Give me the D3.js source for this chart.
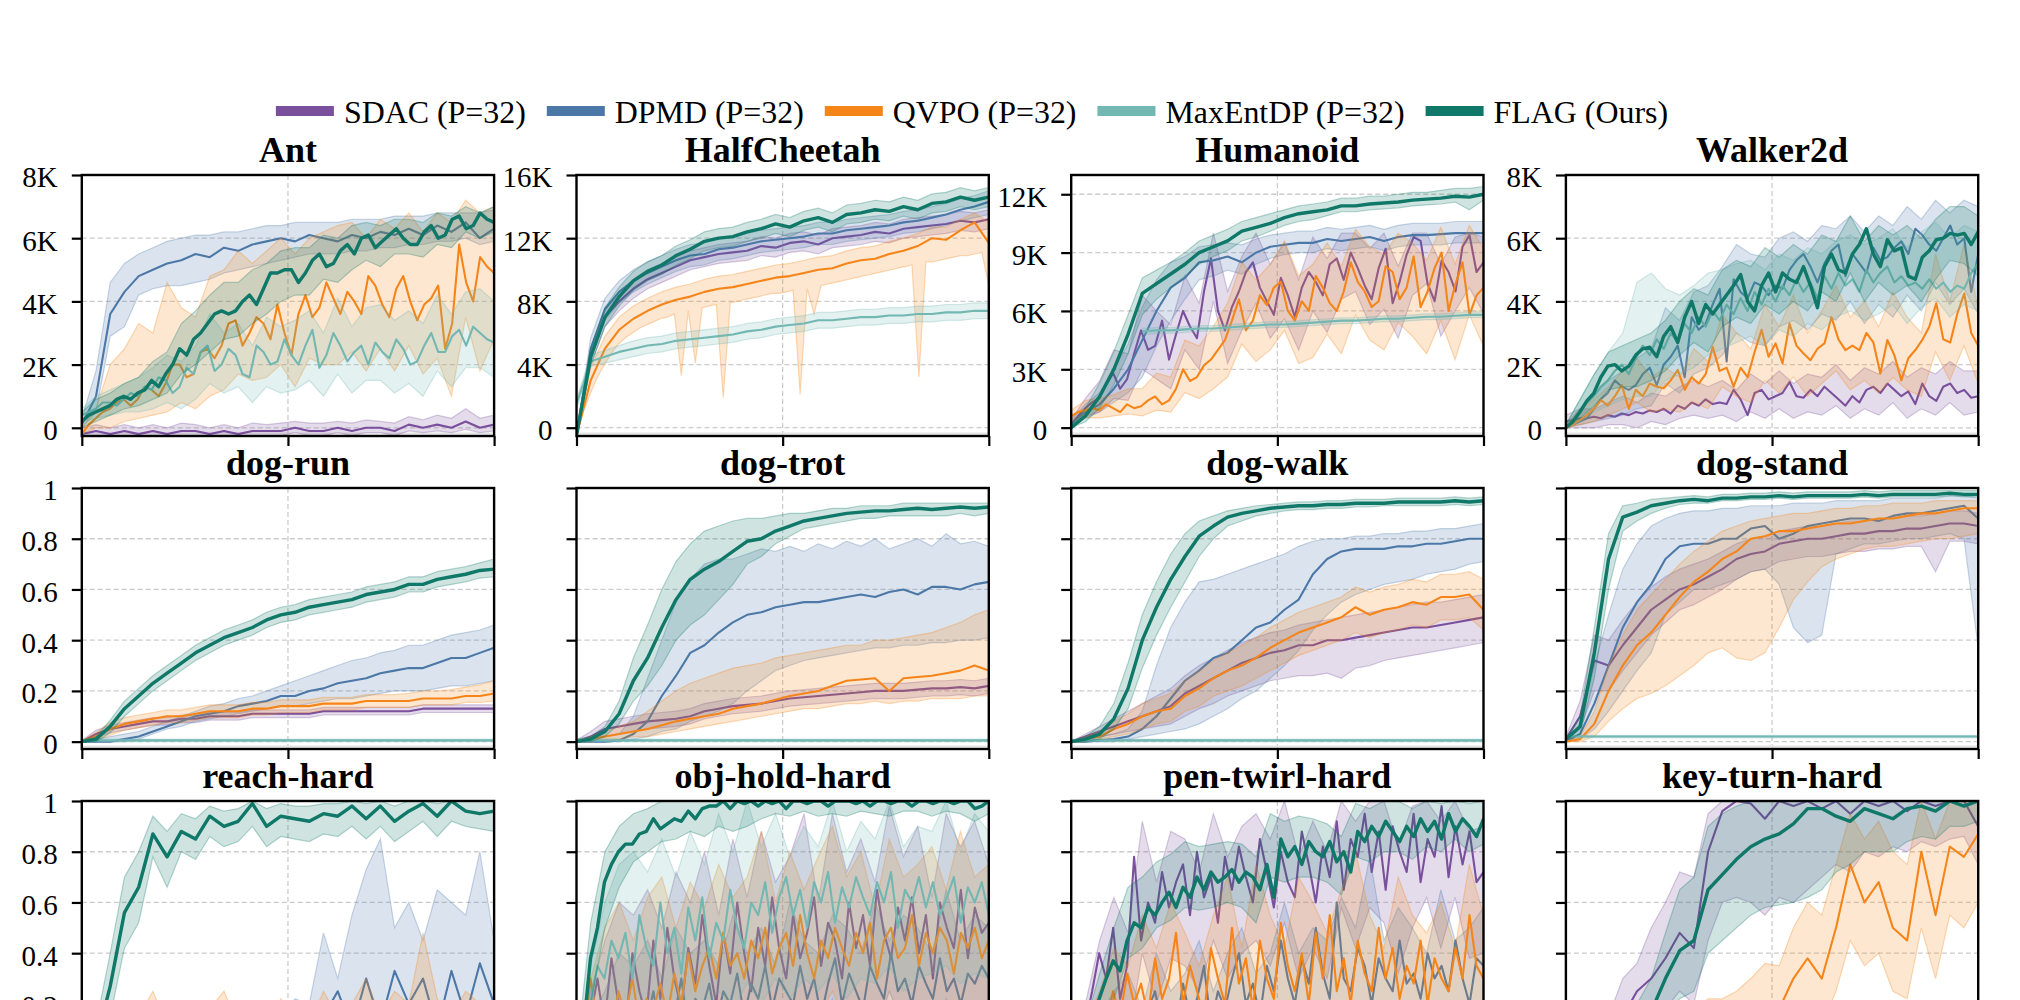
<!DOCTYPE html>
<html>
<head>
<meta charset="utf-8">
<script src="https://cdn.jsdelivr.net/npm/d3@7"></script>
<style>
  body { margin: 0; overflow: hidden; background: #fff; }
  text { font-family: "Liberation Serif", "Times New Roman", serif; }
</style>
</head>
<body>
<div id="chart"></div>
<script>
// Methods, in drawing order (FLAG on top)
const methodNames = ["SDAC (P=32)", "DPMD (P=32)", "QVPO (P=32)", "MaxEntDP (P=32)", "FLAG (Ours)"];
const methodColors = ["#7a4f9c", "#4c78a8", "#f58518", "#72b7b2", "#0f7868"];

const taskNames = ["Ant", "HalfCheetah", "Humanoid", "Walker2d",
                   "dog-run", "dog-trot", "dog-walk", "dog-stand",
                   "reach-hard", "obj-hold-hard", "pen-twirl-hard", "key-turn-hard"];

const ticks8K = [0, 2, 4, 6, 8];
const ticks16K = [0, 4, 8, 12, 16];
const ticks12K = [0, 3, 6, 9, 12];
const ticksUnit = [0, 0.2, 0.4, 0.6, 0.8, 1];

// ---- MuJoCo (values in thousands) ----
// each: [SDAC, DPMD, QVPO, MaxEntDP, FLAG]; points are spread evenly over training
const antMean = [
  [-0.2,-0.1,-0.2,-0.1,-0.2,-0.1,-0.2,-0.1,-0.1,-0.2,-0.1,-0.2,-0.1,-0.1,-0.1,0,-0.1,-0.1,0,-0.1,0,0,-0.1,0.1,0,0.1,0,0.2,0,0.1],
  [0.1,1.0,3.6,4.3,4.8,5.0,5.2,5.3,5.5,5.4,5.7,5.6,5.8,5.9,6.0,5.9,6.1,6.0,5.9,6.1,6.0,6.2,6.1,6.3,6.1,6.4,6.2,6.5,6.0,6.3],
  [-0.2,0.1,0.3,0.5,0.6,0.8,0.9,0.7,0.9,1.3,1.2,1.0,1.4,2.0,2.0,1.6,1.7,2.4,2.5,2.2,2.6,3.3,3.4,2.6,3.0,3.5,3.3,2.8,3.9,3.0,2.3,3.6,4.2,3.5,3.8,4.6,4.1,3.6,4.3,4.0,3.6,4.8,4.5,3.9,3.5,4.4,4.8,4.0,3.4,3.9,4.1,4.5,2.5,3.3,5.8,4.6,4.0,5.4,5.1,4.9],
  [0.4,0.5,0.6,0.8,0.8,0.7,0.9,1.1,1.0,1.3,1.2,1.6,1.5,1.1,1.3,1.9,1.7,2.4,2.6,1.8,2.0,2.5,2.3,1.7,1.6,2.6,2.4,2.0,2.1,2.8,2.3,2.0,2.6,3.1,1.9,2.3,3.0,2.6,2.1,2.4,2.6,2.0,2.7,2.4,2.2,2.8,2.5,2.0,2.1,2.6,3.0,2.4,2.4,2.9,3.1,2.6,3.2,3.0,2.8,2.7],
  [0.2,0.4,0.5,0.6,0.7,0.9,1.0,0.9,1.1,1.2,1.5,1.3,1.7,2.0,2.5,2.3,2.8,3.0,3.3,3.6,3.7,3.6,3.7,4.0,4.2,3.9,4.4,4.9,4.9,5.0,5.0,4.6,4.9,5.3,5.5,5.1,5.2,5.6,5.8,5.5,6.0,6.1,5.7,5.9,6.1,6.3,6.0,5.8,5.8,6.2,6.4,6.0,6.1,6.6,6.7,6.3,6.4,6.8,6.6,6.5]
];
const antLo = [
  [-0.3,-0.25,-0.3,-0.25,-0.3,-0.25,-0.3,-0.25,-0.25,-0.3,-0.25,-0.3,-0.25,-0.25,-0.25,-0.15,-0.25,-0.25,-0.15,-0.25,-0.15,-0.15,-0.25,-0.1,-0.15,-0.1,-0.15,-0.05,-0.15,-0.1],
  [0,0.5,2.9,3.2,4.2,4.4,4.5,4.5,4.6,4.7,4.9,5.0,5.1,5.2,5.3,5.4,5.5,5.5,5.5,5.6,5.6,5.7,5.7,5.8,5.8,5.9,5.9,6.0,5.8,5.9],
  [-0.2,0,0,0.2,0.3,0.4,0.5,0.8,0.6,1.0,1.2,1.7,1.5,1.6,2.0,1.3,2.2,2.0,2.0,2.4,1.8,2.5,1.8,2.6,1.7,2.2,1.0,3.5,1.8,2.8],
  [0.2,0.3,0.4,0.5,0.5,0.6,0.8,0.6,0.9,1.4,1.1,1.3,0.8,1.3,1.1,1.2,1.5,1.0,1.7,1.1,1.5,1.5,1.1,1.4,1.0,1.8,1.3,1.9,1.9,1.6],
  [0,0.2,0.4,0.6,0.7,0.9,1.1,1.7,2.0,2.4,2.8,2.9,3.3,3.6,4.0,4.2,4.2,4.7,4.6,5.0,5.3,5.1,5.5,5.5,5.4,5.8,5.7,6.2,6.0,6.2]
];
const antHi = [
  [0,0.1,0,0.1,0,0.1,0,0.15,0.1,0,0.1,0,0.15,0.1,0.15,0.2,0.15,0.15,0.2,0.15,0.25,0.2,0.15,0.35,0.25,0.4,0.3,0.6,0.3,0.4],
  [0.3,1.8,4.6,5.2,5.5,5.7,5.9,6.0,6.1,6.1,6.2,6.2,6.3,6.4,6.4,6.5,6.5,6.5,6.5,6.6,6.6,6.6,6.7,6.7,6.7,6.8,6.8,6.8,6.8,6.9],
  [0,0.6,2.0,2.5,3.3,3.0,4.6,3.8,3.5,4.8,5.0,5.6,5.2,5.6,6.0,5.5,6.0,6.2,6.4,6.5,6.0,6.6,6.3,6.8,6.2,6.8,6.5,7.2,6.8,7.0],
  [0.6,1.0,1.2,1.4,1.6,1.9,2.3,2.1,2.6,3.6,3.0,3.3,2.6,3.5,3.2,3.4,3.7,3.0,4.1,3.2,3.8,3.9,3.4,3.7,3.3,4.2,3.6,4.3,4.4,4.0],
  [0.5,0.9,1.1,1.4,1.6,2.1,2.4,3.3,3.7,4.2,4.6,4.6,5.0,5.2,5.6,5.7,5.7,6.1,6.0,6.4,6.5,6.4,6.6,6.6,6.5,6.8,6.7,7.0,6.8,7.0]
];

const cheetahMean = [
  [-0.5,4.5,7.0,8.0,8.8,9.4,9.8,10.2,10.6,10.8,11.0,11.1,11.2,11.5,11.4,11.7,11.8,11.6,12.0,12.1,12.2,12.4,12.3,12.6,12.7,12.8,12.9,13.1,13.0,13.2],
  [-0.5,5.0,7.5,8.6,9.3,9.8,10.2,10.6,10.9,11.0,11.3,11.4,11.6,11.8,11.9,12.0,12.1,12.3,12.3,12.5,12.6,12.7,12.8,13.0,13.1,13.3,13.5,13.8,14.0,14.3],
  [-0.5,3.0,5.0,6.2,6.9,7.4,7.8,8.1,8.3,8.6,8.8,8.9,9.1,9.3,9.5,9.6,9.8,10.0,10.1,10.4,10.6,10.7,11.0,11.2,11.5,12.0,11.9,12.5,13.0,11.7],
  [1.5,4.2,4.5,4.8,5.0,5.2,5.3,5.5,5.6,5.7,5.8,5.9,6.1,6.2,6.4,6.5,6.6,6.8,6.8,6.9,7.0,7.0,7.1,7.1,7.2,7.2,7.3,7.3,7.4,7.4],
  [-0.5,4.5,7.0,8.3,9.3,9.9,10.3,10.9,11.3,11.8,12.0,12.1,12.4,12.6,12.9,12.7,13.1,13.3,13.0,13.5,13.6,13.8,13.7,14.0,13.8,14.2,14.3,14.6,14.4,14.6]
];
const cheetahLo = [
  [-0.5,4.0,6.4,7.4,8.2,8.8,9.2,9.6,10.0,10.2,10.4,10.5,10.6,10.9,10.8,11.1,11.2,11.0,11.4,11.5,11.6,11.8,11.7,12.0,12.1,12.2,12.3,12.5,12.4,12.6],
  [-0.5,4.3,6.8,7.9,8.6,9.1,9.5,9.9,10.2,10.3,10.6,10.7,10.9,11.1,11.2,11.3,11.4,11.6,11.6,11.8,11.9,12.0,12.1,12.3,12.4,12.6,12.8,13.1,13.3,13.5],
  [-0.5,1.0,2.2,3.2,4.0,4.7,5.3,5.7,6.0,6.3,6.5,6.7,6.9,7.0,7.2,3.3,7.4,4.1,7.6,7.7,7.8,1.9,7.9,8.0,8.1,8.2,8.3,8.4,8.5,8.5,8.6,8.7,2.1,8.8,7.2,9.0,9.1,9.2,9.3,9.4,9.5,9.6,9.7,9.8,9.9,10.0,10.1,10.2,10.3,3.2,10.5,10.5,10.6,10.7,10.8,10.9,10.9,11.0,11.1,9.0],
  [1.2,3.9,4.1,4.3,4.5,4.7,4.8,5.0,5.1,5.2,5.3,5.4,5.6,5.7,5.9,6.0,6.1,6.3,6.3,6.4,6.5,6.5,6.6,6.6,6.7,6.7,6.8,6.8,6.9,6.9],
  [-0.5,3.9,6.4,7.7,8.7,9.3,9.7,10.3,10.7,11.2,11.4,11.5,11.8,12.0,12.3,12.1,12.5,12.7,12.4,12.9,13.0,13.2,13.1,13.4,13.2,13.6,13.7,14.0,13.8,14.0]
];
const cheetahHi = [
  [-0.3,5.0,7.6,8.6,9.4,10.0,10.4,10.8,11.2,11.4,11.6,11.7,11.8,12.1,12.0,12.3,12.4,12.2,12.6,12.7,12.8,13.0,12.9,13.2,13.3,13.4,13.5,13.7,13.6,13.8],
  [-0.3,5.7,8.2,9.3,10.0,10.5,10.9,11.3,11.6,11.7,12.0,12.1,12.3,12.5,12.6,12.7,12.8,13.0,13.0,13.2,13.3,13.4,13.5,13.7,13.8,14.0,14.2,14.5,14.7,15.0],
  [-0.3,3.8,5.8,7.0,7.7,8.2,8.6,8.9,9.1,9.4,9.6,9.7,9.9,10.1,10.3,10.4,10.6,10.8,10.9,11.2,11.4,11.5,11.8,12.0,12.3,12.7,12.7,13.2,13.6,13.0],
  [1.8,4.6,4.9,5.2,5.5,5.7,5.8,6.0,6.1,6.2,6.3,6.4,6.6,6.7,6.9,7.0,7.1,7.3,7.3,7.4,7.5,7.5,7.6,7.6,7.7,7.7,7.8,7.8,7.9,7.9],
  [-0.3,5.1,7.6,8.9,9.9,10.5,10.9,11.5,11.9,12.4,12.6,12.7,13.0,13.2,13.5,13.3,13.7,13.9,13.6,14.1,14.2,14.4,14.3,14.6,14.4,14.8,14.9,15.2,15.0,15.2]
];

const humanoidMean = [
  [0.2,0.6,1.0,1.3,1.5,2.2,2.8,2.0,2.5,3.8,5.0,4.0,4.2,5.5,3.5,4.8,6.0,5.2,4.6,7.0,8.7,6.0,5.0,6.2,7.0,8.0,8.5,7.2,6.5,5.8,7.7,6.8,5.7,7.2,8.0,7.5,6.8,8.4,8.7,7.6,9.0,8.2,7.3,6.6,8.2,9.2,6.4,7.5,8.9,9.8,9.6,7.4,6.5,8.6,8.0,7.0,9.3,9.9,8.0,8.5],
  [0.2,0.8,1.2,2.0,3.0,4.5,6.0,7.2,7.7,8.5,8.6,8.8,8.5,9.0,9.3,9.4,9.5,9.5,9.7,9.6,9.7,9.8,9.6,9.8,9.9,9.9,9.95,10.0,10.0,10.0],
  [0.6,0.8,0.9,1.0,0.9,1.2,1.0,0.8,1.2,1.0,1.1,1.4,1.6,1.2,1.4,2.0,3.0,2.4,2.6,3.2,3.5,4.0,4.5,5.5,6.6,5.0,5.5,6.8,6.3,7.2,7.5,6.0,5.5,6.5,6.0,7.8,7.2,6.4,6.0,7.0,8.5,7.5,7.0,6.2,6.5,8.3,8.0,6.6,7.2,8.8,6.2,7.0,8.2,9.0,6.0,7.4,8.5,5.8,6.8,7.2],
  [null,null,null,null,null,4.95,5.0,5.0,5.05,5.1,5.1,5.15,5.2,5.25,5.3,5.3,5.35,5.4,5.45,5.5,5.5,5.55,5.6,5.6,5.65,5.7,5.7,5.75,5.8,5.8],
  [0,0.6,1.6,3.0,4.8,6.9,7.4,7.9,8.4,9.0,9.3,9.6,10.1,10.3,10.5,10.8,11.0,11.1,11.2,11.4,11.4,11.5,11.55,11.6,11.7,11.75,11.8,11.9,11.85,12.0]
];
const humanoidLo = [
  [0.1,0.6,0.8,1.5,1.4,3.0,2.5,2.0,4.0,3.0,6.5,3.3,5.0,6.4,4.6,5.6,4.0,6.0,4.9,6.6,7.0,5.3,6.1,4.6,6.8,7.4,4.7,6.0,7.2,5.9],
  [0.1,0.5,0.8,1.3,1.8,2.6,4.2,5.5,6.6,7.6,7.8,8.1,7.9,8.4,8.7,8.9,9.0,9.0,9.2,9.1,9.2,9.3,9.1,9.3,9.4,9.4,9.4,9.5,9.5,9.5],
  [0.3,0.5,0.5,0.6,0.7,0.6,0.9,0.8,1.8,1.5,2.0,2.6,4.3,3.4,4.0,5.0,3.3,3.6,4.8,3.8,5.8,4.5,4.0,5.4,4.7,3.8,5.5,3.5,5.8,4.2],
  [null,null,null,null,null,4.8,4.85,4.85,4.9,4.95,4.95,5.0,5.05,5.1,5.15,5.15,5.2,5.25,5.3,5.35,5.35,5.4,5.45,5.45,5.5,5.55,5.55,5.6,5.65,5.65],
  [0,0.3,1.0,2.2,3.8,5.8,6.6,7.2,7.8,8.4,8.8,9.1,9.6,9.8,10.1,10.4,10.6,10.7,10.9,11.1,11.1,11.2,11.25,11.3,11.4,11.45,11.5,11.6,11.2,11.7]
];
const humanoidHi = [
  [0.4,1.5,2.4,4.0,3.8,6.8,6.0,5.3,7.8,6.4,10.0,7.0,8.8,10.0,8.4,9.5,7.6,9.8,8.7,10.0,10.0,9.2,10.0,8.3,10.0,10.0,8.4,9.8,10.0,9.8],
  [0.4,1.2,1.8,3.0,4.3,6.2,7.6,8.5,8.8,9.3,9.4,9.5,9.4,9.7,9.9,10.0,10.1,10.1,10.3,10.2,10.3,10.4,10.2,10.4,10.5,10.5,10.5,10.6,10.6,10.6],
  [0.9,1.4,1.5,1.7,2.0,2.0,2.8,2.6,4.5,4.2,5.2,6.4,8.5,7.6,8.4,9.6,7.8,8.4,9.5,8.3,10.2,9.3,8.9,10.0,9.5,8.6,10.3,8.4,10.4,9.2],
  [null,null,null,null,null,5.1,5.15,5.15,5.2,5.25,5.25,5.3,5.35,5.4,5.45,5.45,5.5,5.55,5.6,5.65,5.65,5.7,5.75,5.75,5.8,5.85,5.85,5.9,5.95,5.95],
  [0.2,1.0,2.3,3.9,5.8,7.7,8.1,8.5,9.0,9.6,9.9,10.2,10.6,10.8,11.0,11.2,11.4,11.5,11.6,11.8,11.8,11.9,11.9,12.0,12.1,12.1,12.2,12.3,12.3,12.4]
];

const walkerMean = [
  [0.2,0.25,0.3,0.3,0.35,0.3,0.4,0.35,0.45,0.4,0.5,0.45,0.55,0.5,0.6,0.45,0.7,0.6,0.8,0.7,0.9,0.75,0.8,0.75,1.2,0.9,0.4,1.1,1.2,0.9,1.0,1.1,1.45,1.0,0.95,1.2,1.0,1.3,1.1,0.9,0.7,1.0,0.8,1.2,1.3,1.1,1.4,1.2,1.0,1.15,0.75,1.4,1.0,0.85,1.3,1.4,1.1,1.2,0.95,1.0],
  [0,0.1,0.2,0.3,0.6,0.9,1.1,1.5,1.3,1.2,1.35,1.7,1.9,1.35,2.0,2.25,2.6,1.6,3.5,3.1,3.3,3.9,4.4,2.1,4.7,4.3,4.1,4.6,4.5,4.2,4.5,4.4,5.0,5.3,5.5,5.1,4.6,5.2,5.6,5.8,4.8,5.5,5.2,4.9,5.7,5.3,5.4,5.7,5.9,5.5,6.3,6.1,5.8,5.6,6.0,6.4,5.8,6.0,4.3,5.5],
  [0,0.1,0.25,0.4,0.6,0.88,0.7,1.0,1.35,0.6,1.2,1.0,1.4,1.3,1.25,1.5,1.83,1.2,1.6,1.4,1.7,2.56,1.8,1.9,1.3,1.9,1.6,2.4,3.1,2.25,2.67,2.04,3.3,2.6,2.35,2.14,2.5,2.67,3.5,2.8,2.46,2.6,2.46,3.0,2.7,1.72,2.78,2.3,1.5,2.2,2.46,2.78,3.2,3.94,2.8,2.7,3.6,4.25,3.0,2.6],
  [0,0.2,0.5,0.8,1.0,1.3,1.5,1.8,2.0,1.7,2.2,2.6,2.3,2.8,2.5,3.0,2.7,3.3,3.0,3.5,3.2,3.7,3.4,3.9,3.6,4.1,3.7,4.3,3.9,4.4,4.0,4.5,4.2,4.7,4.3,4.6,4.1,4.8,4.4,4.9,4.5,4.7,4.3,5.0,4.6,4.9,5.1,4.6,4.8,4.5,4.6,4.4,4.7,4.4,4.6,4.3,4.5,4.4,4.9,5.2],
  [0,0.2,0.5,0.85,1.1,1.6,1.95,2.0,1.8,1.95,2.3,2.5,2.55,2.25,2.9,3.2,2.7,3.5,4.0,3.3,3.9,3.6,3.9,4.2,4.5,4.85,4.0,3.7,4.5,4.9,4.3,4.9,4.7,4.6,5.1,4.5,3.8,5.1,5.5,5.0,4.9,5.5,5.8,6.3,5.5,5.1,5.95,5.6,5.7,4.8,4.7,5.4,5.6,5.95,6.0,6.15,6.1,6.15,5.8,6.2]
];
const walkerLo = [
  [0,0,0,0.1,0.1,0,0.2,0.1,0.3,0.4,0.3,0.4,0.2,0.5,0.3,0.6,0.3,0.5,0.4,0.7,0.3,0.6,0.4,0.8,0.3,0.6,0.4,0.8,0.4,0.5],
  [0,0.1,0.2,0.3,0.4,0.6,0.7,1.4,1.1,1.7,1.9,2.3,3.0,2.7,2.6,3.2,3.4,3.1,3.6,3.4,4.0,3.3,3.9,3.5,4.2,3.7,4.6,3.9,4.4,3.6],
  [0,0.1,0.2,0.4,0.6,0.8,0.5,0.6,0.5,0.8,0.6,1.3,1.0,0.8,1.5,1.1,1.6,1.0,1.4,1.8,1.2,1.5,1.1,1.6,1.2,1.0,2.4,1.5,2.6,1.4],
  [0,0.2,0.5,0.7,0.9,1.0,1.0,1.5,1.7,1.9,2.3,2.5,2.7,2.9,2.6,3.1,2.9,3.3,3.1,3.5,3.7,3.4,3.6,3.9,3.3,3.8,4.1,3.5,3.9,3.7],
  [0,0.3,0.7,1.2,1.3,1.3,1.5,1.8,2.3,2.7,2.4,3.2,3.5,3.3,3.9,3.6,4.0,3.7,4.3,4.0,4.9,4.0,4.6,4.2,4.5,4.0,4.7,5.3,5.2,4.8]
];
const walkerHi = [
  [0.4,0.6,0.6,0.8,1.0,0.8,1.1,1.0,1.3,1.5,1.3,1.5,1.2,1.7,1.4,1.8,1.4,1.7,1.6,2.0,1.5,1.9,1.7,2.1,1.6,1.9,1.7,2.1,1.8,1.8],
  [0.1,0.6,1.0,1.5,1.8,2.2,2.5,3.8,3.4,4.3,4.5,5.1,5.8,5.5,5.4,6.0,6.2,5.9,6.4,6.3,6.7,6.2,6.7,6.4,7.0,6.6,7.2,6.8,7.2,7.0],
  [0.1,0.6,0.9,1.3,1.8,2.2,1.6,1.9,1.6,2.5,2.1,3.6,3.0,2.5,3.9,3.2,4.2,3.0,3.7,4.5,3.5,4.0,3.2,4.3,3.5,3.0,5.5,4.0,5.8,3.8],
  [0.1,0.9,1.7,2.4,3.0,4.6,4.9,4.4,4.2,4.5,4.9,5.0,5.2,5.3,5.0,5.5,5.3,5.7,5.5,5.9,6.1,5.8,6.0,6.3,5.7,6.2,6.5,6.0,6.4,6.2],
  [0.1,0.9,1.7,2.4,2.6,2.8,3.0,3.4,4.0,4.4,4.2,5.0,5.3,5.1,5.7,5.4,5.8,5.5,6.1,5.9,6.7,5.9,6.4,6.1,6.4,6.0,6.6,7.0,7.0,6.7]
];

// ---- DMC dog (normalised return) ----
const dogRunMean = [
  [0,0.03,0.05,0.06,0.07,0.08,0.08,0.09,0.09,0.1,0.1,0.1,0.11,0.11,0.11,0.11,0.11,0.12,0.12,0.12,0.12,0.12,0.12,0.12,0.13,0.13,0.13,0.13,0.13,0.13],
  [0,0,0,0.01,0.02,0.04,0.06,0.08,0.1,0.11,0.12,0.14,0.15,0.16,0.18,0.18,0.2,0.21,0.23,0.24,0.25,0.27,0.28,0.29,0.29,0.31,0.33,0.33,0.35,0.37],
  [0,0.02,0.05,0.07,0.08,0.09,0.1,0.1,0.11,0.12,0.12,0.12,0.13,0.13,0.14,0.14,0.14,0.15,0.15,0.15,0.16,0.16,0.16,0.16,0.17,0.17,0.17,0.18,0.18,0.19],
  [0.005,0.005],
  [0,0.01,0.06,0.13,0.18,0.23,0.27,0.31,0.35,0.38,0.41,0.43,0.45,0.48,0.5,0.51,0.53,0.54,0.55,0.56,0.58,0.59,0.6,0.62,0.62,0.64,0.65,0.66,0.675,0.68]
];
const dogRunLo = [
  [0,0.015,0.035,0.045,0.055,0.065,0.065,0.075,0.075,0.085,0.085,0.085,0.095,0.095,0.095,0.095,0.095,0.105,0.105,0.105,0.105,0.105,0.105,0.105,0.115,0.115,0.115,0.115,0.115,0.115],
  [0,0,0,0,0.01,0.03,0.05,0.06,0.08,0.09,0.1,0.11,0.12,0.13,0.14,0.14,0.15,0.16,0.17,0.17,0.18,0.19,0.2,0.2,0.2,0.21,0.22,0.22,0.23,0.24],
  [0,0.005,0.025,0.045,0.055,0.065,0.075,0.075,0.085,0.095,0.095,0.095,0.105,0.105,0.115,0.115,0.115,0.125,0.125,0.125,0.135,0.135,0.135,0.135,0.145,0.145,0.145,0.155,0.155,0.16],
  [0,0],
  [0,0,0.035,0.1,0.15,0.2,0.24,0.28,0.32,0.35,0.38,0.4,0.42,0.45,0.47,0.48,0.5,0.51,0.52,0.53,0.55,0.56,0.57,0.59,0.59,0.61,0.62,0.63,0.645,0.65]
];
const dogRunHi = [
  [0.005,0.045,0.065,0.075,0.085,0.095,0.095,0.105,0.105,0.115,0.115,0.115,0.125,0.125,0.125,0.125,0.125,0.135,0.135,0.135,0.135,0.135,0.135,0.135,0.145,0.145,0.145,0.145,0.145,0.145],
  [0,0.01,0.02,0.03,0.04,0.06,0.08,0.1,0.12,0.14,0.15,0.17,0.18,0.2,0.22,0.24,0.26,0.28,0.3,0.32,0.33,0.35,0.36,0.38,0.38,0.4,0.42,0.43,0.44,0.46],
  [0.005,0.035,0.075,0.095,0.105,0.115,0.125,0.125,0.135,0.145,0.145,0.145,0.155,0.155,0.165,0.165,0.165,0.175,0.175,0.175,0.185,0.185,0.185,0.19,0.2,0.2,0.205,0.215,0.225,0.24],
  [0.01,0.01],
  [0.005,0.02,0.085,0.16,0.21,0.26,0.3,0.34,0.38,0.41,0.44,0.46,0.48,0.51,0.53,0.54,0.56,0.57,0.58,0.59,0.61,0.62,0.63,0.65,0.65,0.67,0.68,0.69,0.705,0.72]
];

const dogTrotMean = [
  [0,0.02,0.05,0.06,0.07,0.08,0.085,0.09,0.1,0.12,0.13,0.14,0.145,0.15,0.16,0.17,0.175,0.18,0.185,0.19,0.195,0.2,0.2,0.2,0.205,0.21,0.21,0.215,0.21,0.22],
  [0,0,0,0.005,0.03,0.08,0.18,0.26,0.35,0.38,0.43,0.47,0.5,0.51,0.53,0.54,0.55,0.55,0.56,0.57,0.58,0.57,0.59,0.6,0.58,0.61,0.61,0.6,0.62,0.63],
  [0,0.01,0.02,0.03,0.04,0.05,0.065,0.08,0.09,0.1,0.11,0.13,0.14,0.15,0.165,0.18,0.19,0.2,0.22,0.24,0.245,0.25,0.2,0.25,0.255,0.26,0.27,0.28,0.3,0.28],
  [0.005,0.005],
  [0,0.01,0.04,0.11,0.24,0.33,0.45,0.56,0.64,0.68,0.71,0.75,0.79,0.8,0.83,0.85,0.87,0.88,0.89,0.9,0.905,0.91,0.91,0.915,0.92,0.915,0.92,0.925,0.92,0.925]
];
const dogTrotLo = [
  [0,0,0.02,0.03,0.04,0.05,0.055,0.06,0.07,0.09,0.1,0.11,0.115,0.12,0.13,0.14,0.145,0.15,0.155,0.16,0.165,0.17,0.17,0.17,0.175,0.18,0.18,0.185,0.18,0.19],
  [0,0,0,0,0.01,0.02,0.04,0.05,0.08,0.1,0.12,0.15,0.2,0.24,0.28,0.3,0.32,0.33,0.34,0.35,0.36,0.37,0.37,0.38,0.38,0.39,0.39,0.4,0.4,0.41],
  [0,0,0.01,0.01,0.02,0.02,0.03,0.04,0.05,0.06,0.07,0.08,0.09,0.1,0.11,0.12,0.13,0.13,0.14,0.15,0.15,0.16,0.15,0.16,0.16,0.17,0.17,0.17,0.18,0.18],
  [0,0],
  [0,0,0.02,0.07,0.16,0.22,0.3,0.4,0.46,0.5,0.56,0.62,0.7,0.73,0.78,0.81,0.84,0.85,0.86,0.87,0.88,0.88,0.89,0.89,0.89,0.89,0.89,0.9,0.89,0.9]
];
const dogTrotHi = [
  [0.005,0.04,0.08,0.09,0.1,0.11,0.115,0.12,0.13,0.15,0.16,0.17,0.175,0.18,0.19,0.2,0.205,0.21,0.215,0.22,0.225,0.23,0.23,0.23,0.235,0.24,0.24,0.245,0.24,0.25],
  [0,0.01,0.02,0.03,0.1,0.25,0.4,0.55,0.64,0.7,0.72,0.72,0.74,0.76,0.75,0.77,0.75,0.78,0.76,0.79,0.77,0.8,0.76,0.78,0.8,0.77,0.82,0.78,0.79,0.77],
  [0,0.02,0.04,0.06,0.08,0.12,0.16,0.2,0.23,0.25,0.27,0.29,0.3,0.31,0.33,0.34,0.35,0.36,0.37,0.38,0.38,0.4,0.4,0.41,0.42,0.43,0.45,0.47,0.5,0.52],
  [0.01,0.01],
  [0.01,0.02,0.06,0.16,0.33,0.46,0.6,0.71,0.78,0.83,0.85,0.87,0.88,0.88,0.89,0.9,0.9,0.91,0.92,0.92,0.93,0.93,0.93,0.94,0.94,0.94,0.94,0.94,0.94,0.94]
];

const dogWalkMean = [
  [0,0.02,0.04,0.06,0.08,0.1,0.12,0.14,0.19,0.22,0.25,0.28,0.31,0.33,0.35,0.36,0.38,0.38,0.4,0.4,0.41,0.42,0.43,0.44,0.45,0.45,0.46,0.47,0.48,0.49],
  [0,0,0.005,0.01,0.02,0.05,0.1,0.17,0.24,0.28,0.33,0.35,0.4,0.45,0.47,0.52,0.56,0.66,0.72,0.75,0.76,0.76,0.76,0.77,0.77,0.78,0.78,0.79,0.8,0.8],
  [0,0.01,0.02,0.05,0.07,0.1,0.12,0.13,0.18,0.21,0.25,0.28,0.3,0.33,0.37,0.4,0.43,0.45,0.47,0.49,0.53,0.5,0.52,0.53,0.55,0.54,0.57,0.57,0.58,0.52],
  [0.005,0.005],
  [0,0.01,0.03,0.09,0.21,0.4,0.53,0.64,0.73,0.81,0.85,0.885,0.9,0.91,0.92,0.925,0.93,0.93,0.935,0.935,0.94,0.94,0.94,0.945,0.945,0.945,0.945,0.95,0.945,0.95]
];
const dogWalkLo = [
  [0,0.01,0.02,0.03,0.04,0.05,0.06,0.07,0.1,0.13,0.15,0.18,0.2,0.22,0.24,0.25,0.26,0.26,0.27,0.25,0.29,0.3,0.32,0.33,0.34,0.35,0.36,0.37,0.38,0.39],
  [0,0,0,0,0.01,0.02,0.03,0.04,0.05,0.07,0.1,0.13,0.17,0.2,0.25,0.3,0.36,0.44,0.5,0.55,0.58,0.6,0.62,0.63,0.64,0.66,0.67,0.68,0.7,0.71],
  [0,0,0.01,0.02,0.03,0.05,0.07,0.08,0.12,0.14,0.18,0.2,0.22,0.25,0.28,0.31,0.34,0.36,0.38,0.4,0.43,0.41,0.43,0.44,0.46,0.45,0.48,0.48,0.49,0.44],
  [0,0],
  [0,0,0.01,0.05,0.13,0.29,0.42,0.53,0.63,0.73,0.8,0.85,0.87,0.89,0.9,0.91,0.915,0.915,0.92,0.92,0.925,0.925,0.93,0.93,0.93,0.93,0.93,0.935,0.93,0.935]
];
const dogWalkHi = [
  [0,0.03,0.06,0.09,0.12,0.15,0.18,0.21,0.26,0.3,0.33,0.36,0.39,0.41,0.43,0.44,0.46,0.47,0.48,0.49,0.5,0.51,0.52,0.53,0.54,0.55,0.55,0.56,0.57,0.58],
  [0,0.01,0.02,0.03,0.05,0.12,0.3,0.45,0.55,0.63,0.64,0.66,0.68,0.7,0.72,0.74,0.77,0.79,0.8,0.8,0.81,0.81,0.82,0.82,0.83,0.83,0.84,0.84,0.85,0.86],
  [0,0.02,0.04,0.08,0.11,0.15,0.17,0.19,0.24,0.28,0.32,0.35,0.38,0.41,0.45,0.48,0.51,0.53,0.55,0.57,0.61,0.59,0.61,0.62,0.64,0.63,0.66,0.66,0.67,0.64],
  [0.01,0.01],
  [0,0.02,0.06,0.15,0.31,0.5,0.63,0.74,0.82,0.87,0.89,0.91,0.92,0.93,0.935,0.94,0.945,0.945,0.95,0.95,0.955,0.955,0.955,0.96,0.96,0.96,0.96,0.965,0.96,0.965]
];

const dogStandMean = [
  [0.01,0.1,0.32,0.3,0.38,0.45,0.52,0.56,0.6,0.62,0.65,0.68,0.72,0.74,0.75,0.78,0.79,0.8,0.8,0.81,0.82,0.82,0.83,0.83,0.84,0.84,0.85,0.86,0.86,0.85],
  [0,0.03,0.15,0.3,0.45,0.55,0.62,0.72,0.77,0.78,0.78,0.8,0.8,0.84,0.85,0.8,0.82,0.85,0.86,0.87,0.88,0.88,0.87,0.89,0.9,0.9,0.91,0.92,0.93,0.88],
  [0,0.01,0.07,0.2,0.3,0.38,0.43,0.5,0.57,0.63,0.67,0.72,0.75,0.8,0.81,0.83,0.83,0.84,0.85,0.86,0.86,0.87,0.88,0.88,0.89,0.9,0.9,0.91,0.92,0.92],
  [0.02,0.02],
  [0.01,0.06,0.35,0.72,0.885,0.905,0.93,0.94,0.95,0.955,0.95,0.96,0.96,0.965,0.965,0.97,0.965,0.97,0.97,0.97,0.97,0.975,0.97,0.975,0.975,0.975,0.975,0.98,0.975,0.975]
];
const dogStandLo = [
  [0,0.05,0.2,0.2,0.28,0.35,0.42,0.47,0.52,0.54,0.57,0.6,0.64,0.67,0.68,0.71,0.72,0.73,0.73,0.74,0.75,0.75,0.76,0.76,0.77,0.77,0.67,0.79,0.79,0.78],
  [0,0.01,0.05,0.12,0.2,0.28,0.35,0.5,0.55,0.6,0.6,0.62,0.64,0.67,0.68,0.62,0.45,0.39,0.42,0.74,0.76,0.78,0.78,0.79,0.8,0.8,0.81,0.82,0.8,0.37],
  [0,0,0.02,0.08,0.13,0.17,0.19,0.22,0.26,0.3,0.35,0.37,0.33,0.32,0.35,0.45,0.56,0.63,0.69,0.72,0.74,0.76,0.77,0.77,0.78,0.79,0.8,0.8,0.81,0.82],
  [0.015,0.015],
  [0.005,0.03,0.25,0.6,0.83,0.87,0.9,0.92,0.935,0.94,0.94,0.95,0.95,0.955,0.955,0.96,0.955,0.96,0.96,0.96,0.96,0.965,0.96,0.965,0.965,0.965,0.965,0.97,0.965,0.965]
];
const dogStandHi = [
  [0.02,0.16,0.42,0.4,0.48,0.55,0.61,0.65,0.68,0.7,0.72,0.75,0.78,0.8,0.81,0.83,0.84,0.85,0.85,0.86,0.87,0.87,0.88,0.88,0.89,0.89,0.9,0.91,0.91,0.9],
  [0.01,0.06,0.3,0.5,0.68,0.78,0.85,0.88,0.9,0.91,0.91,0.92,0.92,0.93,0.93,0.93,0.94,0.94,0.94,0.95,0.95,0.95,0.95,0.96,0.96,0.96,0.96,0.97,0.97,0.96],
  [0,0.02,0.12,0.3,0.42,0.52,0.58,0.64,0.7,0.75,0.79,0.83,0.85,0.87,0.88,0.89,0.9,0.9,0.91,0.92,0.92,0.93,0.93,0.94,0.94,0.94,0.95,0.95,0.95,0.95],
  [0.025,0.025],
  [0.015,0.1,0.45,0.82,0.93,0.94,0.955,0.96,0.965,0.97,0.965,0.975,0.975,0.98,0.98,0.985,0.98,0.985,0.985,0.985,0.985,0.99,0.985,0.99,0.99,0.99,0.99,0.99,0.99,0.99]
];

// ---- MyoSuite hard (success rate) ----
const reachMean = [
  [0,0.01,0.02,0.01,0.02,0.01,0.03,0.02],
  [0,0,0,0.01,0,0.02,0.01,0.03,0.02,0.05,0.03,0.06,0.04,0.08,0.05,0.1,0.07,0.15,0.25,0.1,0.3,0.12,0.33,0.2,0.3,0.1,0.33,0.15,0.36,0.2],
  [0,0,0.02,0.05,0.03,0.08,0.04,0.06,0.03,0.05,0.08,0.04,0.06,0.03,0.07,0.05,0.04,0.09,0.05,0.06,0.1,0.05,0.08,0.06,0.12,0.07,0.05,0.08,0.06,0.05],
  [0.005,0.005],
  [0,0.05,0.27,0.56,0.66,0.87,0.78,0.88,0.85,0.94,0.9,0.92,0.99,0.9,0.94,0.93,0.92,0.95,0.94,0.98,0.93,0.98,0.92,0.96,0.99,0.94,1,0.96,0.95,0.96]
];
const reachLo = [
  [0,0],
  [0,0],
  [0,0],
  [0,0],
  [0,0,0.15,0.42,0.52,0.78,0.66,0.8,0.77,0.86,0.82,0.84,0.9,0.82,0.86,0.85,0.84,0.87,0.86,0.9,0.85,0.9,0.84,0.88,0.92,0.86,0.92,0.9,0.89,0.88]
];
const reachHi = [
  [0.02,0.05,0.08,0.05,0.1,0.06,0.12,0.08],
  [0,0.01,0.02,0.05,0.03,0.08,0.06,0.1,0.08,0.15,0.1,0.18,0.12,0.2,0.15,0.22,0.2,0.48,0.3,0.55,0.73,0.85,0.5,0.6,0.45,0.65,0.6,0.55,0.8,0.45],
  [0,0.05,0.1,0.2,0.15,0.25,0.12,0.2,0.1,0.18,0.25,0.12,0.2,0.1,0.22,0.15,0.12,0.25,0.15,0.2,0.3,0.15,0.25,0.2,0.48,0.22,0.15,0.25,0.2,0.15],
  [0.01,0.01],
  [0,0.12,0.4,0.7,0.8,0.94,0.88,0.95,0.93,0.98,0.96,0.97,1,0.97,0.99,0.98,0.98,0.99,0.99,1,0.99,1,0.98,1,1,0.99,1,1,1,1]
];

const objHoldMean = [
  [0,0.05,0.15,0.3,0.12,0.38,0.2,0.1,0.4,0.25,0.15,0.45,0.22,0.5,0.3,0.18,0.42,0.28,0.55,0.35,0.2,0.48,0.32,0.6,0.4,0.25,0.5,0.35,0.62,0.42,0.3,0.55,0.38,0.48,0.62,0.35,0.52,0.45,0.3,0.6,0.42,0.55,0.35,0.65,0.48,0.38,0.58,0.45,0.62,0.4,0.55,0.3,0.6,0.5,0.42,0.65,0.38,0.58,0.48,0.52],
  [0,0.02,0.1,0.05,0.15,0.08,0.2,0.1,0.05,0.18,0.12,0.25,0.08,0.2,0.15,0.3,0.1,0.22,0.18,0.28,0.12,0.25,0.2,0.32,0.15,0.28,0.22,0.35,0.18,0.3,0.25,0.2,0.35,0.22,0.3,0.15,0.28,0.38,0.2,0.32,0.25,0.18,0.35,0.28,0.22,0.4,0.25,0.3,0.2,0.35,0.28,0.22,0.38,0.25,0.3,0.2,0.32,0.28,0.35,0.3],
  [0,0.05,0.3,0.12,0.2,0.1,0.25,0.15,0.3,0.12,0.22,0.18,0.28,0.15,0.32,0.2,0.4,0.25,0.35,0.42,0.3,0.48,0.35,0.4,0.3,0.45,0.38,0.5,0.32,0.42,0.48,0.35,0.55,0.4,0.3,0.45,0.38,0.5,0.42,0.35,0.48,0.4,0.52,0.3,0.45,0.5,0.38,0.42,0.55,0.35,0.48,0.4,0.5,0.45,0.32,0.48,0.42,0.5,0.38,0.45],
  [0,0.05,0.2,0.35,0.3,0.45,0.38,0.48,0.3,0.55,0.42,0.35,0.6,0.4,0.5,0.32,0.58,0.45,0.62,0.38,0.52,0.45,0.65,0.5,0.42,0.6,0.55,0.68,0.48,0.62,0.7,0.55,0.65,0.5,0.68,0.6,0.72,0.52,0.66,0.58,0.7,0.62,0.55,0.68,0.6,0.72,0.5,0.65,0.6,0.7,0.58,0.68,0.55,0.62,0.7,0.52,0.66,0.6,0.68,0.55],
  [0,0.1,0.38,0.5,0.68,0.75,0.8,0.83,0.83,0.87,0.88,0.93,0.89,0.91,0.93,0.92,0.96,0.93,0.97,0.98,0.98,1,0.97,1,0.99,1,0.98,1,0.99,1,0.97,1,1,0.99,1,1,0.98,1,1,1,0.99,1,0.98,1,1,0.99,1,1,0.98,1,1,0.99,1,1,0.99,1,1,0.97,0.98,1]
];
const objHoldLo = [
  [0,0,0.02,0.05,0.03,0.08,0.02,0.1,0.05,0.12,0.03,0.15,0.05,0.18,0.08,0.12,0.2,0.05,0.22,0.1,0.15,0.08,0.25,0.12,0.2,0.05,0.22,0.15,0.2,0.1],
  [0,0],
  [0,0,0.05,0.08,0.04,0.1,0.12,0.05,0.12,0.08,0.15,0.1,0.12,0.2,0.08,0.18,0.1,0.15,0.25,0.12,0.18,0.08,0.2,0.12,0.15,0.18,0.1,0.2,0.12,0.15],
  [0,0,0.05,0.12,0.15,0.1,0.18,0.12,0.2,0.15,0.25,0.18,0.28,0.2,0.3,0.22,0.3,0.25,0.32,0.22,0.3,0.28,0.35,0.25,0.3,0.32,0.35,0.28,0.32,0.3],
  [0,0.2,0.5,0.66,0.76,0.8,0.84,0.85,0.88,0.86,0.9,0.88,0.9,0.93,0.95,0.94,0.96,0.94,0.95,0.94,0.96,0.95,0.94,0.96,0.96,0.94,0.96,0.95,0.92,0.95]
];
const objHoldHi = [
  [0,0.25,0.45,0.6,0.55,0.65,0.5,0.72,0.6,0.8,0.55,0.85,0.62,0.88,0.68,0.78,0.95,0.6,0.95,0.72,0.85,0.68,0.98,0.78,0.9,0.62,0.95,0.82,0.92,0.75],
  [0,0.15,0.25,0.4,0.35,0.45,0.3,0.5,0.4,0.45,0.35,0.55,0.4,0.5,0.35,0.6,0.45,0.4,0.55,0.5,0.4,0.6,0.45,0.55,0.5,0.4,0.65,0.45,0.55,0.5],
  [0,0.3,0.5,0.6,0.45,0.62,0.7,0.5,0.68,0.58,0.75,0.62,0.7,0.88,0.6,0.8,0.65,0.78,0.9,0.7,0.8,0.58,0.85,0.7,0.75,0.82,0.65,0.88,0.7,0.75],
  [0,0.35,0.6,0.75,0.8,0.72,0.85,0.7,0.88,0.75,0.95,0.8,1,0.82,0.95,0.78,0.9,0.82,1,0.8,0.92,0.85,1,0.82,0.9,0.88,1,0.8,0.95,0.88],
  [0,0.52,0.8,0.9,0.95,0.97,1,1,1,1,1,1,1,1,1,1,1,1,1,1,1,1,1,1,1,1,1,1,1,1]
];

const penTwirlMean = [
  [0,0.05,0.12,0.25,0.4,0.3,0.5,0.22,0.35,0.78,0.45,0.6,0.52,0.72,0.58,0.68,0.75,0.55,0.8,0.62,0.7,0.52,0.78,0.65,0.82,0.7,0.6,0.85,0.72,0.58,0.8,0.68,0.62,0.88,0.75,0.6,0.82,0.7,0.92,0.65,0.85,0.78,0.95,0.72,0.88,0.65,0.9,0.8,0.72,0.95,0.68,0.85,0.78,0.98,0.7,0.9,0.75,0.88,0.68,0.72],
  [0,0.01,0.03,0.05,0.1,0.06,0.15,0.08,0.2,0.1,0.05,0.18,0.25,0.12,0.2,0.1,0.28,0.15,0.22,0.35,0.12,0.25,0.18,0.3,0.4,0.2,0.28,0.15,0.35,0.25,0.45,0.3,0.2,0.38,0.28,0.5,0.32,0.22,0.6,0.3,0.25,0.42,0.35,0.2,0.38,0.3,0.25,0.45,0.28,0.32,0.22,0.4,0.3,0.35,0.25,0.45,0.3,0.2,0.38,0.35],
  [0,0.02,0.05,0.1,0.18,0.12,0.25,0.15,0.32,0.2,0.28,0.15,0.38,0.22,0.3,0.48,0.2,0.35,0.25,0.15,0.42,0.3,0.2,0.5,0.28,0.38,0.18,0.45,0.3,0.22,0.52,0.35,0.25,0.4,0.2,0.48,0.3,0.55,0.25,0.38,0.2,0.45,0.32,0.25,0.5,0.3,0.42,0.22,0.35,0.28,0.45,0.2,0.38,0.3,0.25,0.42,0.3,0.55,0.35,0.3],
  [0,0.01,0.03,0.02,0.04,0.03,0.05,0.03],
  [0,0.03,0.08,0.15,0.22,0.3,0.37,0.33,0.45,0.52,0.5,0.58,0.55,0.6,0.64,0.58,0.66,0.62,0.7,0.65,0.72,0.68,0.7,0.73,0.68,0.72,0.7,0.65,0.75,0.62,0.85,0.78,0.82,0.75,0.84,0.8,0.78,0.84,0.76,0.8,0.72,0.88,0.84,0.9,0.86,0.92,0.88,0.84,0.9,0.86,0.93,0.88,0.92,0.85,0.95,0.88,0.93,0.9,0.86,0.93]
];
const penTwirlLo = [
  [0,0,0.05,0.15,0.05,0.4,0.2,0.38,0.35,0.25,0.45,0.3,0.4,0.45,0.35,0.52,0.3,0.42,0.3,0.58,0.42,0.58,0.52,0.32,0.5,0.62,0.42,0.62,0.38,0.4],
  [0,0],
  [0,0,0.02,0.05,0.03,0.08,0.05,0.1,0.06,0.03,0.08,0.15,0.05,0.18,0.08,0.05,0.15,0.1,0.06,0.12,0.2,0.08,0.05,0.15,0.08,0.06,0.1,0.05,0.18,0.08],
  [0,0],
  [0,0,0.08,0.22,0.38,0.42,0.5,0.53,0.58,0.57,0.58,0.6,0.58,0.52,0.7,0.68,0.7,0.7,0.68,0.63,0.78,0.76,0.8,0.8,0.77,0.82,0.8,0.85,0.8,0.83]
];
const penTwirlHi = [
  [0,0.2,0.45,0.62,0.48,0.92,0.68,0.88,0.85,0.72,0.95,0.78,0.9,0.95,0.85,1,0.78,0.92,0.8,1,0.92,1,1,0.82,0.98,1,0.92,1,0.88,0.9],
  [0,0.06,0.15,0.25,0.32,0.18,0.4,0.25,0.32,0.45,0.25,0.4,0.5,0.32,0.4,0.6,0.4,0.5,0.45,0.62,0.5,0.78,0.45,0.58,0.5,0.4,0.65,0.45,0.5,0.58],
  [0,0.12,0.25,0.42,0.35,0.55,0.42,0.6,0.48,0.35,0.55,0.7,0.42,0.75,0.55,0.42,0.7,0.6,0.48,0.65,0.8,0.55,0.42,0.7,0.55,0.48,0.6,0.42,0.75,0.55],
  [0,0.05,0.1,0.08,0.12,0.1,0.14,0.1],
  [0,0.12,0.32,0.5,0.66,0.7,0.76,0.79,0.84,0.82,0.83,0.84,0.83,0.78,0.95,0.92,0.94,0.93,0.91,0.86,0.99,0.97,1,1,0.97,1,0.99,1,0.99,1]
];

const keyTurnMean = [
  [0,0,0.03,0.08,0.15,0.25,0.3,0.38,0.48,0.42,0.8,0.96,1,0.99,0.93,1,0.98,1,0.97,1,0.95,1,0.98,1,0.96,1,0.98,1,1,0.9],
  [0,0.01,0.02,0.01,0.02,0.01],
  [0,0,0,0,0,0.02,0.03,0.05,0.05,0.08,0.1,0.1,0.12,0.15,0.2,0.18,0.3,0.38,0.3,0.5,0.75,0.6,0.68,0.5,0.45,0.8,0.55,0.82,0.78,0.87],
  [0.005,0.005],
  [0,0,0.02,0.05,0.08,0.12,0.17,0.3,0.41,0.45,0.65,0.71,0.77,0.82,0.85,0.87,0.91,0.97,0.97,0.94,0.92,0.97,0.95,0.93,0.97,0.98,0.96,1,0.98,1]
];
const keyTurnLo = [
  [0,0,0,0.02,0.05,0.1,0.12,0.18,0.25,0.2,0.45,0.6,0.62,0.6,0.55,0.62,0.6,0.65,0.7,0.75,0.72,0.8,0.78,0.82,0.8,0.84,0.82,0.85,0.86,0.75],
  [0,0],
  [0,0,0,0,0,0,0,0.01,0.01,0.02,0.03,0.03,0.04,0.05,0.07,0.06,0.12,0.16,0.12,0.25,0.45,0.35,0.4,0.25,0.22,0.5,0.3,0.55,0.5,0.6],
  [0,0],
  [0,0,0,0.02,0.04,0.06,0.09,0.15,0.22,0.25,0.4,0.45,0.5,0.55,0.58,0.59,0.6,0.62,0.65,0.72,0.75,0.8,0.8,0.8,0.84,0.86,0.85,0.9,0.9,0.92]
];
const keyTurnHi = [
  [0,0,0.06,0.15,0.3,0.36,0.5,0.6,0.72,0.7,0.95,1,1,1,1,1,1,1,1,1,1,1,1,1,1,1,1,1,1,1],
  [0.02,0.04,0.06,0.05,0.06,0.05],
  [0,0,0,0.01,0.02,0.05,0.08,0.12,0.12,0.18,0.22,0.22,0.25,0.3,0.36,0.35,0.5,0.6,0.55,0.75,0.95,0.85,0.92,0.8,0.75,1,0.85,1,1,1],
  [0.01,0.01],
  [0,0.01,0.05,0.1,0.15,0.2,0.3,0.48,0.65,0.7,0.9,0.95,0.98,1,1,1,1,1,1,1,1,1,1,1,1,1,1,1,1,1]
];

// y-range of each panel
const yRanges = [[-0.26, 8], [-0.525, 16], [-0.43, 12.99], [-0.26, 8],
                 [-0.029, 1], [-0.029, 1], [-0.029, 1], [-0.029, 1],
                 [-0.029, 1], [-0.029, 1], [-0.029, 1], [-0.029, 1]];
const yTicks = [ticks8K, ticks16K, ticks12K, ticks8K,
                ticksUnit, ticksUnit, ticksUnit, ticksUnit,
                ticksUnit, ticksUnit, ticksUnit, ticksUnit];

const panels = [
  [antMean, antLo, antHi], [cheetahMean, cheetahLo, cheetahHi],
  [humanoidMean, humanoidLo, humanoidHi], [walkerMean, walkerLo, walkerHi],
  [dogRunMean, dogRunLo, dogRunHi], [dogTrotMean, dogTrotLo, dogTrotHi],
  [dogWalkMean, dogWalkLo, dogWalkHi], [dogStandMean, dogStandLo, dogStandHi],
  [reachMean, reachLo, reachHi], [objHoldMean, objHoldLo, objHoldHi],
  [penTwirlMean, penTwirlLo, penTwirlHi], [keyTurnMean, keyTurnLo, keyTurnHi]
];

// layout
const left0 = 81.8, colStep = 494.7;
const panelW = 412.3, panelH = 261;
const rowTops = [175, 488, 801];

const svg = d3.select("#chart")
  .append("svg")
    .attr("width", 2020)
    .attr("height", 1000);

// legend
const legend = svg.append("g");
let lx = 0;
methodNames.forEach((name, k) => {
  const item = legend.append("g").attr("transform", `translate(${lx},0)`);
  item.append("line")
    .attr("x1", 0).attr("x2", 58)
    .attr("y1", 0).attr("y2", 0)
    .attr("stroke", methodColors[k])
    .attr("stroke-width", 10);
  const t = item.append("text")
    .attr("x", 68).attr("y", 11.5)
    .style("font-size", "31.9px")
    .text(name);
  lx += 68 + t.node().getComputedTextLength() + 21;
});
legend.attr("transform", `translate(${972 - (lx - 21) / 2},111)`);

function toPoints(arr) {
  return arr.map((v, i) => [i / (arr.length - 1), v]).filter(d => d[1] !== null);
}

panels.forEach((p, idx) => {
  const row = Math.floor(idx / 4), col = idx % 4;
  const g = svg.append("g")
    .attr("transform", `translate(${left0 + col * colStep},${rowTops[row]})`);

  const x = d3.scaleLinear().domain([0, 1]).range([0, panelW]);
  const y = d3.scaleLinear().domain(yRanges[idx]).range([panelH, 0]);
  const isK = idx < 4;
  const showLabels = isK || col === 0;
  const fmt = d => d === 0 ? "0" : isK ? d + "K" : (d === 1 ? "1" : d3.format(".1f")(d));

  const clipId = "clip" + idx;
  g.append("clipPath").attr("id", clipId)
    .append("rect").attr("width", panelW).attr("height", panelH);

  // grid
  g.selectAll(".hgrid")
    .data(yTicks[idx])
    .join("line")
      .attr("x1", 0).attr("x2", panelW)
      .attr("y1", d => y(d)).attr("y2", d => y(d))
      .attr("stroke", "#cccccc")
      .attr("stroke-width", 1.3)
      .attr("stroke-dasharray", "5,3");
  g.append("line")
    .attr("x1", x(0.5)).attr("x2", x(0.5))
    .attr("y1", 0).attr("y2", panelH)
    .attr("stroke", "#cccccc")
    .attr("stroke-width", 1.3)
    .attr("stroke-dasharray", "5,3");
  g.append("line")
    .attr("x1", 0).attr("x2", panelW)
    .attr("y1", panelH - 2.5).attr("y2", panelH - 2.5)
    .attr("stroke", "#e4e4e4")
    .attr("stroke-width", 2);

  const plot = g.append("g").attr("clip-path", `url(#${clipId})`);
  const line = d3.line().x(d => x(d[0])).y(d => y(d[1]));

  const [means, los, his] = p;
  means.forEach((m, k) => {
    const c = methodColors[k];
    const hiPts = toPoints(his[k]);
    const loPts = toPoints(los[k]);
    plot.append("path")
      .attr("d", line(hiPts.concat(loPts.slice().reverse())) + "Z")
      .attr("fill", c)
      .attr("fill-opacity", 0.2)
      .attr("stroke", "none");
    [hiPts, loPts].forEach(edge => {
      plot.append("path")
        .attr("d", line(edge))
        .attr("fill", "none")
        .attr("stroke", c)
        .attr("stroke-opacity", 0.3)
        .attr("stroke-width", 1.2);
    });
    plot.append("path")
      .attr("d", line(toPoints(m)))
      .attr("fill", "none")
      .attr("stroke", c)
      .attr("stroke-width", k === 4 ? 3.4 : 2.1)
      .attr("stroke-linejoin", "round");
  });

  // axes
  const yAxis = g.append("g")
    .call(d3.axisLeft(y)
      .tickValues(yTicks[idx])
      .tickSize(10)
      .tickPadding(14)
      .tickFormat(showLabels ? fmt : ""));
  yAxis.select(".domain").remove();
  yAxis.selectAll("line").attr("stroke", "#000").attr("stroke-width", 2.2);
  yAxis.selectAll("text")
    .attr("dy", "0.41em")
    .attr("fill", "#000")
    .style("font-size", "29px")
    .style("font-family", "'Liberation Serif', 'Times New Roman', serif");

  const xAxis = g.append("g")
    .attr("transform", `translate(0,${panelH})`)
    .call(d3.axisBottom(x).tickValues([0, 0.5, 1]).tickSize(10).tickFormat(""));
  xAxis.select(".domain").remove();
  xAxis.selectAll("line").attr("stroke", "#000").attr("stroke-width", 2.2);

  // frame
  g.append("rect")
    .attr("width", panelW).attr("height", panelH)
    .attr("fill", "none")
    .attr("stroke", "#000")
    .attr("stroke-width", 2.4);

  // title
  g.append("text")
    .attr("x", panelW / 2)
    .attr("y", -13)
    .attr("text-anchor", "middle")
    .style("font-size", "36px")
    .style("font-weight", "bold")
    .text(taskNames[idx]);
});
</script>
</body>
</html>
